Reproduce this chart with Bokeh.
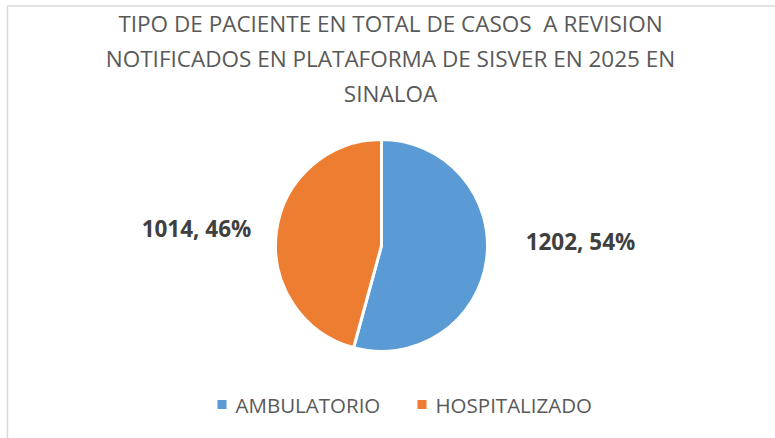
import math
from bokeh.plotting import figure
from bokeh.models import Range1d, ColumnDataSource
from bokeh.core.properties import value
from bokeh.embed import file_html
from bokeh.resources import INLINE

# ---- data ----
categories = ["AMBULATORIO", "HOSPITALIZADO"]
counts = [1202, 1014]
colors = ["#5B9BD5", "#ED7D31"]
title_lines = ["TIPO DE PACIENTE EN TOTAL DE CASOS\u00a0 A REVISION",
               "NOTIFICADOS EN PLATAFORMA DE SISVER EN 2025 EN",
               "SINALOA"]

W, H = 775, 438
p = figure(width=W, height=H, output_backend="svg", toolbar_location=None,
           x_range=Range1d(0, W), y_range=Range1d(0, H), min_border=0)
p.axis.visible = False
p.grid.visible = False
p.outline_line_color = None
p.background_fill_color = "white"
p.border_fill_color = "white"

def Y(y):
    return H - y

# frame lines (chart area border, partly visible)
p.segment(x0=[7, 7], y0=[Y(5.5), Y(5.5)], x1=[W, 7], y1=[Y(5.5), 0],
          line_color="#D9D9D9", line_width=1.5)

# title
for i, t in enumerate(title_lines):
    p.text(x=[390], y=[Y(23 + 35 * i)], text=[t], text_align="center",
           text_baseline="middle", text_font=value("Open Sans"),
           text_font_size="22.5px", text_color="#595959")

# pie
total = sum(counts)
cx, cy, r = 381, Y(245), 106
starts, ends, fracs = [], [], []
acc = 0.0
for c in counts:
    f = c / total
    starts.append(math.pi / 2 - 2 * math.pi * acc)
    ends.append(math.pi / 2 - 2 * math.pi * (acc + f))
    fracs.append(f)
    acc += f
src = ColumnDataSource(dict(start=starts, end=ends, color=colors))
p.wedge(x=cx, y=cy, radius=r, start_angle="start", end_angle="end",
        direction="clock", fill_color="color", line_color="white",
        line_width=3, source=src)

# data labels
label_pos = [(580, 241), (196, 228)]
for (lx, ly), c, f in zip(label_pos, counts, fracs):
    p.text(x=[lx], y=[Y(ly)], text=[f"{c}, {round(f*100)}%"],
           text_align="center", text_baseline="middle",
           text_font=value("Open Sans"), text_font_size="22.5px",
           text_font_style="bold", text_color="#404040")

# legend
leg = [(221.5, 235), (421.5, 435)]
for (mx, tx), cat, col in zip(leg, categories, colors):
    p.scatter(x=[mx], y=[Y(404)], marker="square", size=9,
              fill_color=col, line_color=None)
    p.text(x=[tx], y=[Y(404)], text=[cat], text_align="left",
           text_baseline="middle", text_font=value("Open Sans"),
           text_font_size="20.5px", text_color="#595959")

open("out.html", "w").write(file_html(p, INLINE))
